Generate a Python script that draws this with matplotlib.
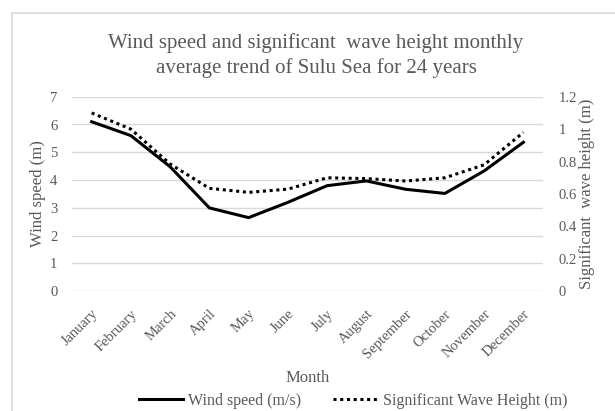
import matplotlib.pyplot as plt
from matplotlib.patches import Rectangle
from matplotlib.ticker import FuncFormatter

months = ["January", "February", "March", "April", "May", "June", "July",
          "August", "September", "October", "November", "December"]
wind_speed = [6.10, 5.60, 4.48, 3.00, 2.65, 3.20, 3.80, 3.97, 3.67, 3.52, 4.33, 5.36]
wave_height = [1.10, 1.00, 0.785, 0.635, 0.61, 0.63, 0.70, 0.695, 0.68, 0.70, 0.78, 0.98]

gray = "#595959"
plt.rcParams["font.family"] = ["Liberation Serif", "DejaVu Serif"]

fig = plt.figure(figsize=(6.15, 4.11), dpi=100)
# light chart border (Excel style)
fig.patches.append(Rectangle((12 / 615, -0.01), 1.0, 1 - 13 / 411 + 0.01,
                             transform=fig.transFigure, fill=False,
                             edgecolor="#d9d9d9", linewidth=1.2))

ax = fig.add_axes([72 / 615, 1 - 291.3 / 411, 471 / 615, 194.6 / 411])
ax2 = ax.twinx()

x = range(len(months))
l1, = ax.plot(x, wind_speed, color="black", linewidth=2.2, label="Wind speed (m/s)")
l2, = ax2.plot(x, wave_height, color="black", linewidth=2.2, linestyle=(0, (1, 1.2)),
               label="Significant Wave Height (m)")

ax.set_xlim(-0.5, 11.5)
ax.set_ylim(0, 7)
ax2.set_ylim(0, 1.2)
ax.set_yticks(range(0, 8))
ax2.set_yticks([0, 0.2, 0.4, 0.6, 0.8, 1.0, 1.2])
ax2.yaxis.set_major_formatter(FuncFormatter(lambda v, p: "%g" % round(v, 1)))

ax.set_xticks(list(x))
ax.set_xticklabels(months, rotation=45, ha="right", va="top", rotation_mode="anchor")

ax.grid(axis="y", color="#d9d9d9", linewidth=1)
ax.set_axisbelow(True)
for a in (ax, ax2):
    for s in a.spines.values():
        s.set_visible(False)
    a.tick_params(length=0, colors=gray, labelsize=10.5)
ax.tick_params(axis="y", pad=10.5)
ax2.tick_params(axis="y", pad=11)
ax.tick_params(axis="x", pad=11.5)

ax.set_ylabel("Wind speed (m)", color=gray, fontsize=12, labelpad=3)
ax2.set_ylabel("Significant  wave height (m)", color=gray, fontsize=12, labelpad=2)

fig.text(316 / 615, 1 - 55.5 / 411,
         "Wind speed and significant  wave height monthly\naverage trend of Sulu Sea for 24 years",
         ha="center", va="center", fontsize=15, color=gray, linespacing=1.4)
fig.text(308 / 615, 1 - 378 / 411, "Month", ha="center", va="center", fontsize=12, color=gray)

fig.legend(handles=[l1, l2], loc="center", bbox_to_anchor=(353 / 615, 1 - 401 / 411),
           ncol=2, frameon=False, fontsize=11.5, labelcolor=gray,
           handlelength=2.8, handletextpad=0.3, columnspacing=2.0, borderpad=0)

fig.savefig("out.png", dpi=100)
